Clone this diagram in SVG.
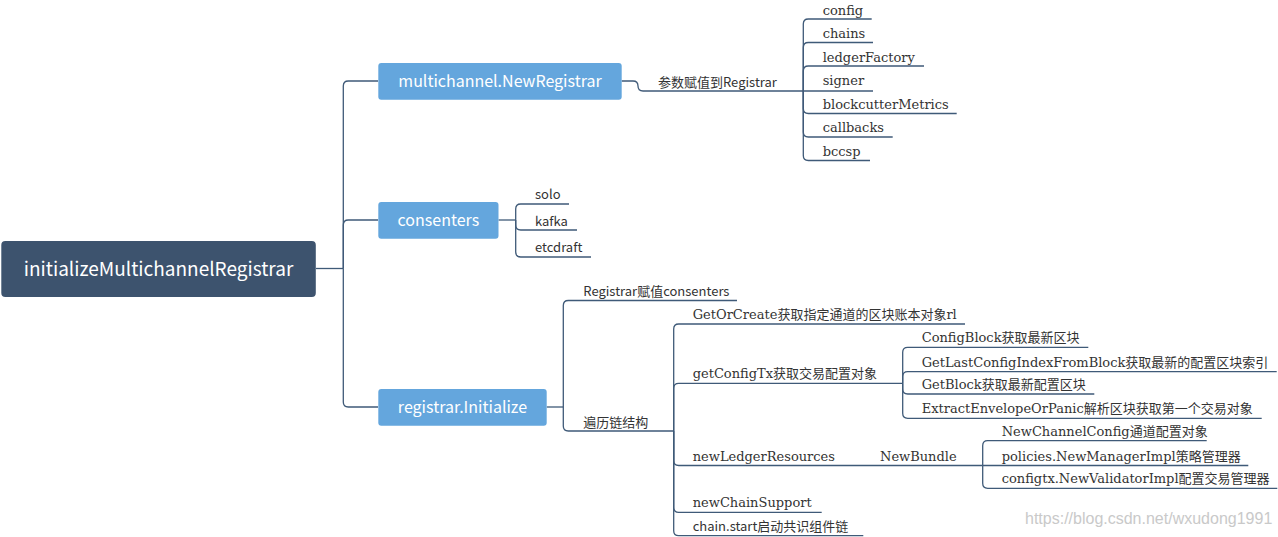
<svg xmlns="http://www.w3.org/2000/svg" width="1278" height="537" viewBox="0 0 1278 537">
<style>
.conn{fill:none;stroke:#3f5a78;stroke-width:1.3}
.root{fill:#3d536e}
.branch{fill:#64a6dd}
.lbl{font-family:"Noto Sans CJK SC","Noto Sans",sans-serif;fill:#ffffff;text-anchor:middle}
.s{font-family:"Noto Sans CJK SC","Liberation Sans",sans-serif;font-size:13px;fill:#333333}
.f{font-family:"DejaVu Serif","Noto Sans CJK SC",serif;font-size:13px;fill:#333333}
.wm{font-family:"Liberation Sans",Arial,sans-serif;font-size:16px;fill:#c9c9c9}
</style>
<rect width="1278" height="537" fill="#ffffff"/>
<g id="connectors">
<path class="conn" d="M316,268.5 H343.3"/>
<path class="conn" d="M343.3,268.5 V86 Q343.3,81 348.3,81 H378"/>
<path class="conn" d="M343.3,268.5 V225 Q343.3,220 348.3,220 H378"/>
<path class="conn" d="M343.3,268.5 V402 Q343.3,407 348.3,407 H378"/>
<path class="conn" d="M621.7,81 H633 Q638,81 638,86 Q638,91 643,91 H803.3"/>
<path class="conn" d="M803.3,91 V24 Q803.3,19 808.3,19 H871.7"/>
<path class="conn" d="M803.3,91 V47.5 Q803.3,42.5 808.3,42.5 H873"/>
<path class="conn" d="M803.3,91 V71 Q803.3,66 808.3,66 H924"/>
<path class="conn" d="M803.3,91 H873"/>
<path class="conn" d="M803.3,91 V108.5 Q803.3,113.5 808.3,113.5 H956.7"/>
<path class="conn" d="M803.3,91 V132 Q803.3,137 808.3,137 H892.7"/>
<path class="conn" d="M803.3,91 V155.5 Q803.3,160.5 808.3,160.5 H870"/>
<path class="conn" d="M498.5,220 H515.7"/>
<path class="conn" d="M515.7,220 V209 Q515.7,204 520.7,204 H569"/>
<path class="conn" d="M515.7,220 V225 Q515.7,230 520.7,230 H577"/>
<path class="conn" d="M515.7,220 V252 Q515.7,257 520.7,257 H591"/>
<path class="conn" d="M546.7,407 H563.3"/>
<path class="conn" d="M563.3,407 V305.5 Q563.3,300.5 568.3,300.5 H737"/>
<path class="conn" d="M563.3,407 V426 Q563.3,431 568.3,431 H673.7"/>
<path class="conn" d="M673.7,431 V329 Q673.7,324 678.7,324 H965"/>
<path class="conn" d="M673.7,431 V388.3 Q673.7,383.3 678.7,383.3 H902.7"/>
<path class="conn" d="M673.7,431 V460.5 Q673.7,465.5 678.7,465.5 H982.7"/>
<path class="conn" d="M673.7,431 V507.3 Q673.7,512.3 678.7,512.3 H821.7"/>
<path class="conn" d="M673.7,431 V530.7 Q673.7,535.7 678.7,535.7 H863.3"/>
<path class="conn" d="M902.7,383.3 V352.3 Q902.7,347.3 907.7,347.3 H1088.3"/>
<path class="conn" d="M902.7,383.3 V376.7 Q902.7,371.7 907.7,371.7 H1276.7"/>
<path class="conn" d="M902.7,383.3 V389 Q902.7,394 907.7,394 H1094.3"/>
<path class="conn" d="M902.7,383.3 V413.3 Q902.7,418.3 907.7,418.3 H1261.7"/>
<path class="conn" d="M982.7,465.5 V445.7 Q982.7,440.7 987.7,440.7 H1206.7"/>
<path class="conn" d="M982.7,465.5 H1248.3"/>
<path class="conn" d="M982.7,465.5 V483.3 Q982.7,488.3 987.7,488.3 H1277.3"/>
</g>
<g id="root">
<rect class="root" x="1.3" y="241" width="314.5" height="56" rx="4"/>
<text class="lbl" x="158.5" y="276" font-size="19">initializeMultichannelRegistrar</text>
</g>
<g id="n-newregistrar">
<rect class="branch" x="378.3" y="63" width="243.4" height="36.7" rx="3"/>
<text class="lbl" x="500" y="87" font-size="16">multichannel.NewRegistrar</text>
</g>
<g id="n-consenters">
<rect class="branch" x="378.3" y="202" width="120.2" height="36.7" rx="3"/>
<text class="lbl" x="438.4" y="226" font-size="16">consenters</text>
</g>
<g id="n-initialize">
<rect class="branch" x="378.3" y="389" width="168.4" height="36.7" rx="3"/>
<text class="lbl" x="462.5" y="413.3" font-size="16">registrar.Initialize</text>
</g>
<g id="n-assign"><text class="s" x="658" y="87">参数赋值到Registrar</text></g>
<g id="n-config"><text class="f" x="822.7" y="14.5">config</text></g>
<g id="n-chains"><text class="f" x="822.7" y="38">chains</text></g>
<g id="n-ledgerFactory"><text class="f" x="822.7" y="61.5">ledgerFactory</text></g>
<g id="n-signer"><text class="f" x="822.7" y="85">signer</text></g>
<g id="n-blockcutterMetrics"><text class="f" x="822.7" y="108.5">blockcutterMetrics</text></g>
<g id="n-callbacks"><text class="f" x="822.7" y="132">callbacks</text></g>
<g id="n-bccsp"><text class="f" x="822.7" y="155.5">bccsp</text></g>
<g id="n-solo"><text class="s" x="535" y="199">solo</text></g>
<g id="n-kafka"><text class="s" x="535" y="225.5">kafka</text></g>
<g id="n-etcdraft"><text class="s" x="535" y="252">etcdraft</text></g>
<g id="n-regconsenters"><text class="s" x="583.3" y="295.5">Registrar赋值consenters</text></g>
<g id="n-traverse"><text class="s" x="583.3" y="426.5">遍历链结构</text></g>
<g id="n-getorcreate"><text class="f" x="692.7" y="319">GetOrCreate获取指定通道的区块账本对象rl</text></g>
<g id="n-getconfigtx"><text class="f" x="692.7" y="378.3">getConfigTx获取交易配置对象</text></g>
<g id="n-newledger"><text class="f" x="692.7" y="460.5">newLedgerResources</text></g>
<g id="n-newchainsupport"><text class="f" x="692.7" y="507.3">newChainSupport</text></g>
<g id="n-chainstart"><text class="s" x="692.7" y="530.7">chain.start启动共识组件链</text></g>
<g id="n-configblock"><text class="f" x="921.7" y="342.3">ConfigBlock获取最新区块</text></g>
<g id="n-getlast"><text class="f" x="921.7" y="366.7">GetLastConfigIndexFromBlock获取最新的配置区块索引</text></g>
<g id="n-getblock"><text class="f" x="921.7" y="389">GetBlock获取最新配置区块</text></g>
<g id="n-extract"><text class="f" x="921.7" y="413.3">ExtractEnvelopeOrPanic解析区块获取第一个交易对象</text></g>
<g id="n-newbundle"><text class="f" x="880" y="460.5">NewBundle</text></g>
<g id="n-newchannelconfig"><text class="f" x="1001.7" y="435.7">NewChannelConfig通道配置对象</text></g>
<g id="n-policies"><text class="f" x="1001.7" y="460.5">policies.NewManagerImpl策略管理器</text></g>
<g id="n-configtx"><text class="f" x="1001.7" y="483.3">configtx.NewValidatorImpl配置交易管理器</text></g>
<text class="wm" x="1025" y="523.5">https://blog.csdn.net/wxudong1991</text>
</svg>
